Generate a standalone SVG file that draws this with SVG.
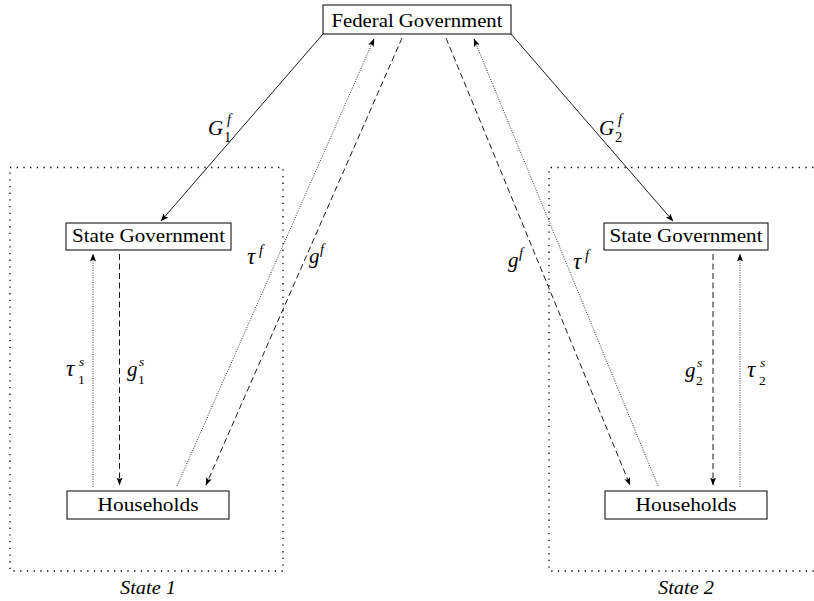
<svg xmlns="http://www.w3.org/2000/svg" width="814" height="601" viewBox="0 0 814 601">
<style>
  .box { fill: #fff; stroke: #000; stroke-width: 1; }
  .lbl { font-family: "Liberation Serif", "DejaVu Serif", serif; font-size: 19.5px; fill: #000; }
  .m { font-family: "Liberation Serif", "DejaVu Serif", serif; font-size: 21px; font-style: italic; fill: #000; }
  .t { font-family: "Liberation Serif", "DejaVu Serif", serif; font-size: 23px; font-style: italic; fill: #000; }
  .sc { font-family: "Liberation Serif", "DejaVu Serif", serif; font-size: 14.5px; fill: #000; }
  .ss { font-family: "Liberation Serif", "DejaVu Serif", serif; font-size: 13.5px; fill: #000; }
  .it { font-style: italic; }
  .region { fill: none; stroke: #000; stroke-width: 1.3; stroke-dasharray: 1.3 5.4; }
  .solid { fill: none; stroke: #000; stroke-width: 0.9; }
  .dash { fill: none; stroke: #000; stroke-width: 0.9; stroke-dasharray: 6 3.5; }
  .dot { fill: none; stroke: #222; stroke-width: 0.9; stroke-dasharray: 1 1.4; }
</style>
<defs>
  <marker id="ah" viewBox="0 0 8 6" refX="7.5" refY="3" markerWidth="8" markerHeight="6" markerUnits="userSpaceOnUse" orient="auto">
    <path d="M0,0 L8,3 L0,6 L1.8,3 Z" fill="#000"/>
  </marker>
</defs>

<g id="regions">
  <rect class="region" x="10" y="167.5" width="273" height="403.5"/>
  <path class="region" d="M820,167.5 L549,167.5 L549,571 L820,571"/>
  <text class="lbl it" x="148" y="594" text-anchor="middle" textLength="56" lengthAdjust="spacingAndGlyphs">State 1</text>
  <text class="lbl it" x="686" y="594" text-anchor="middle" textLength="56" lengthAdjust="spacingAndGlyphs">State 2</text>
</g>

<g id="connectors">
  <line class="solid" x1="323" y1="34" x2="161" y2="221" marker-end="url(#ah)"/>
  <line class="solid" x1="511" y1="34" x2="673" y2="221" marker-end="url(#ah)"/>
  <line class="dot" x1="93" y1="487" x2="93" y2="254" marker-end="url(#ah)"/>
  <line class="dash" x1="119.5" y1="254" x2="119.5" y2="485" marker-end="url(#ah)"/>
  <line class="dot" x1="177" y1="486" x2="374" y2="39" marker-end="url(#ah)"/>
  <line class="dash" x1="402" y1="38" x2="206" y2="485" marker-end="url(#ah)"/>
  <line class="dash" x1="446" y1="38" x2="630" y2="485" marker-end="url(#ah)"/>
  <line class="dot" x1="658" y1="486" x2="474" y2="39" marker-end="url(#ah)"/>
  <line class="dash" x1="713" y1="254" x2="713" y2="485" marker-end="url(#ah)"/>
  <line class="dot" x1="740" y1="487" x2="740" y2="254" marker-end="url(#ah)"/>

  <text class="m" x="208" y="135">G</text>
  <text class="sc" x="224" y="142">1</text>
  <text class="sc it" x="227" y="124">f</text>

  <text class="m" x="599" y="135">G</text>
  <text class="sc" x="615" y="142">2</text>
  <text class="sc it" x="618" y="124">f</text>

  <text class="t" x="66" y="376">τ</text>
  <text class="ss" x="78" y="383.5">1</text>
  <text class="ss it" x="79" y="366">s</text>

  <text class="m" x="127" y="376">g</text>
  <text class="ss" x="138" y="383.5">1</text>
  <text class="ss it" x="139" y="366">s</text>

  <text class="m" x="685" y="377">g</text>
  <text class="ss" x="696" y="384.5">2</text>
  <text class="ss it" x="697" y="367">s</text>

  <text class="t" x="747" y="377">τ</text>
  <text class="ss" x="759" y="384.5">2</text>
  <text class="ss it" x="760" y="367">s</text>

  <text class="t" x="247" y="264">τ</text>
  <text class="sc it" x="259" y="255">f</text>
  <text class="m" x="309" y="263">g</text>
  <text class="sc it" x="320" y="254">f</text>

  <text class="m" x="508" y="267">g</text>
  <text class="sc it" x="519" y="258">f</text>
  <text class="t" x="573" y="269">τ</text>
  <text class="sc it" x="585" y="260">f</text>
</g>

<g id="federal">
  <rect class="box" x="323" y="5" width="188" height="29"/>
  <text class="lbl" x="417" y="27" text-anchor="middle" textLength="171" lengthAdjust="spacingAndGlyphs">Federal Government</text>
</g>
<g id="state1">
  <rect class="box" x="66" y="223" width="165" height="27"/>
  <text class="lbl" x="148.5" y="242" text-anchor="middle" textLength="153" lengthAdjust="spacingAndGlyphs">State Government</text>
</g>
<g id="households1">
  <rect class="box" x="67" y="491" width="162" height="28"/>
  <text class="lbl" x="148" y="511" text-anchor="middle" textLength="101" lengthAdjust="spacingAndGlyphs">Households</text>
</g>
<g id="state2">
  <rect class="box" x="604" y="223" width="164" height="27"/>
  <text class="lbl" x="686" y="242" text-anchor="middle" textLength="153" lengthAdjust="spacingAndGlyphs">State Government</text>
</g>
<g id="households2">
  <rect class="box" x="605" y="491" width="162" height="28"/>
  <text class="lbl" x="686" y="511" text-anchor="middle" textLength="101" lengthAdjust="spacingAndGlyphs">Households</text>
</g>
</svg>
